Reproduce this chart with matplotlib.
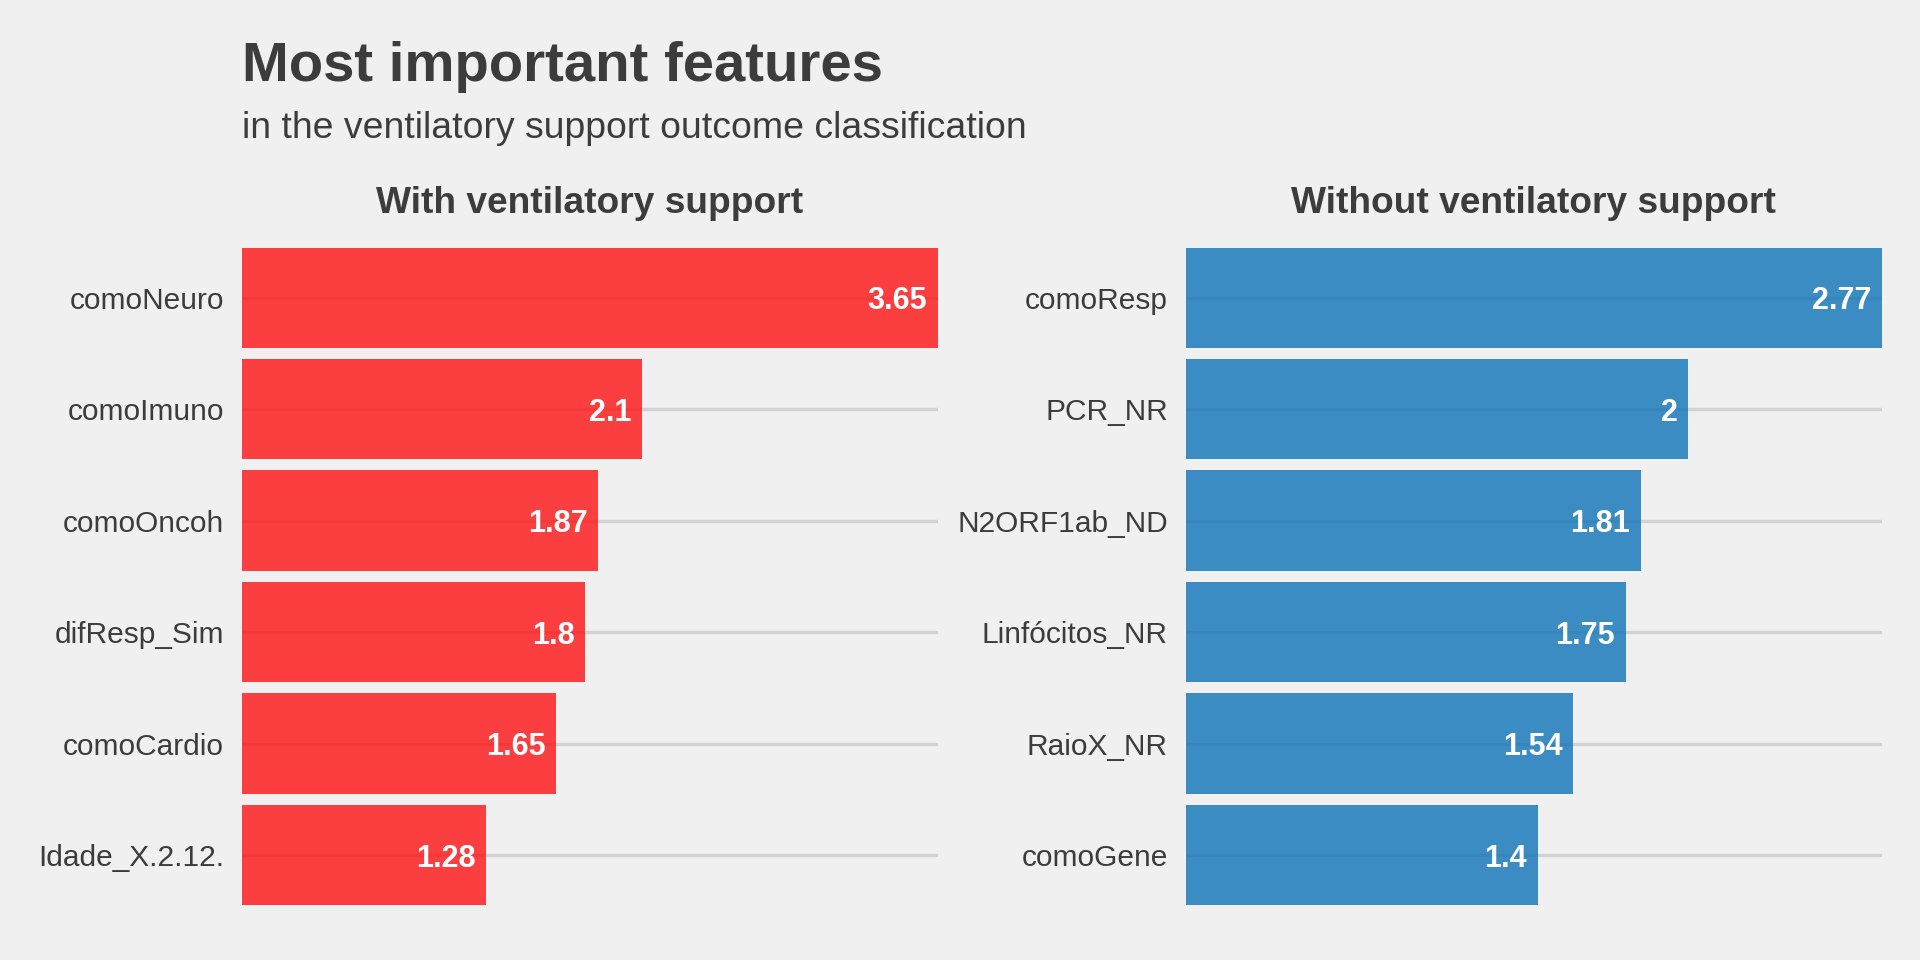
import matplotlib
matplotlib.use("Agg")
import matplotlib.pyplot as plt

plt.rcParams['font.family'] = ['Liberation Sans', 'DejaVu Sans']

# Data
with_features = ["comoNeuro", "comoImuno", "comoOncoh", "difResp_Sim", "comoCardio", "Idade_X.2.12."]
with_values = [3.65, 2.1, 1.87, 1.8, 1.65, 1.28]
without_features = ["comoResp", "PCR_NR", "N2ORF1ab_ND", "Linfócitos_NR", "RaioX_NR", "comoGene"]
without_values = [2.77, 2.0, 1.81, 1.75, 1.54, 1.4]

title = "Most important features"
subtitle = "in the ventilatory support outcome classification"
panel_titles = ["With ventilatory support", "Without ventilatory support"]

BG = "#F0F0F0"
TXT = "#3C3C3C"
GRID = "#D2D2D2"
RED = (1.0, 0.07, 0.08)
BLUE = (0.06, 0.45, 0.725)

W, H = 1920, 960
fig = plt.figure(figsize=(19.2, 9.6), dpi=100, facecolor=BG)

def fx(px):
    return px / W

def fy(px):
    return 1 - px / H

ax_bottom = fy(921.9)
ax_h = (921.9 - 230.8) / H
ax_w = (937.7 - 242) / W
lefts = [242, 1186]

panels = [(with_features, with_values, RED), (without_features, without_values, BLUE)]
for i, (feats, vals, col) in enumerate(panels):
    ax = fig.add_axes([fx(lefts[i]), ax_bottom, ax_w, ax_h])
    ax.set_facecolor(BG)
    pos = list(range(1, len(feats) + 1))
    ax.barh(pos, vals, height=0.9, color=col, alpha=0.8, zorder=2, linewidth=0)
    ax.set_xlim(0, max(vals))
    ax.set_ylim(6.6, 0.4)
    ax.set_yticks(pos)
    ax.set_yticklabels(feats, fontsize=21.5, color=TXT)
    ax.set_xticks([])
    ax.tick_params(axis='y', length=0, pad=13)
    ax.yaxis.grid(True, color=GRID, linewidth=2.4, zorder=0)
    ax.set_axisbelow(True)
    for s in ax.spines.values():
        s.set_visible(False)
    for p, v in zip(pos, vals):
        ax.annotate(f"{v:g}", xy=(v, p), xytext=(-7.5, 0), textcoords='offset points',
                    ha='right', va='center_baseline', fontsize=22, fontweight='bold',
                    color='white', zorder=3)
    # panel title
    cx = fx(lefts[i] + (937.7 - 242) / 2)
    fig.text(cx, fy(213), panel_titles[i], ha='center', va='baseline',
             fontsize=26.7, fontweight='bold', color=TXT)

fig.text(fx(242), fy(80.7), title, ha='left', va='baseline', fontsize=40.5,
         fontweight='bold', color=TXT)
fig.text(fx(242), fy(138.3), subtitle, ha='left', va='baseline', fontsize=26.9,
         color=TXT)

fig.savefig("out.png", dpi=100, facecolor=BG)
